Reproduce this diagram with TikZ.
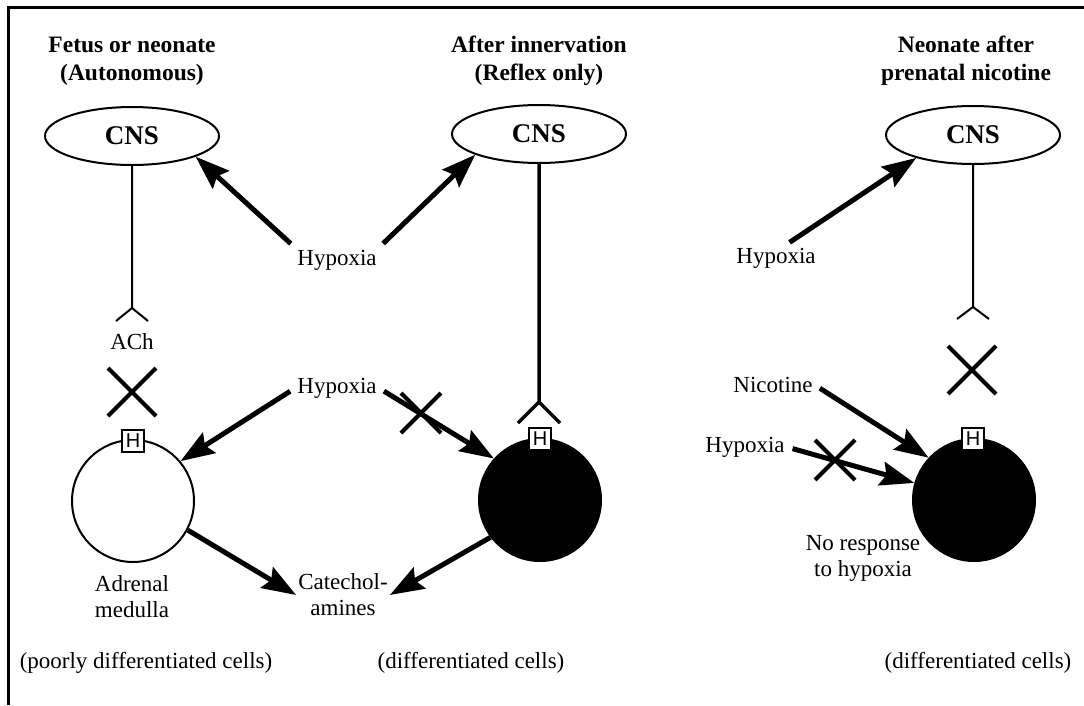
\documentclass[tikz,border=0pt]{standalone}
\usepackage{fontspec}
\setmainfont{Liberation Serif}
\newfontfamily\hfont{Liberation Sans}
\usetikzlibrary{arrows.meta, shapes.geometric}

\begin{document}
\begin{tikzpicture}[
  x=1pt, y=-1pt,
  txt/.style={align=center, inner sep=2pt, font=\fontsize{23}{26}\selectfont},
  heading/.style={align=center, inner sep=2pt, font=\fontsize{23.5}{28}\selectfont\bfseries},
  cns/.style={draw, ellipse, line width=2pt, minimum width=174pt, minimum height=58pt, inner sep=0pt, font=\fontsize{27}{30}\selectfont\bfseries},
  cell/.style={draw, circle, line width=2pt, minimum size=122pt, inner sep=0pt},
  hbox/.style={draw, fill=white, line width=1.5pt, minimum size=22pt, inner sep=0pt, font=\hfont\fontsize{20}{20}\selectfont},
  arrow/.style={-{Stealth[length=34pt, width=24pt, inset=5pt]}, line width=5pt, shorten <=6pt},
  nerve/.style={line width=2pt},
  block/.style={line width=4pt}
]
\useasboundingbox (0,0) rectangle (1084,705);
\draw[line width=3pt] (1084,7) -- (8,7) -- (8,705);

% column titles
\node[heading] (headA) at (132,61) {Fetus or neonate\\(Autonomous)};
\node[heading] (headB) at (539,61) {After innervation\\(Reflex only)};
\node[heading] (headC) at (966,61) {Neonate after\\prenatal nicotine};

\node[cns] (cnsA) at (132,136) {CNS};
\node[cns] (cnsB) at (539,134) {CNS};
\node[cns] (cnsC) at (973,135) {CNS};

\node[txt] (hypU) at (337,260) {Hypoxia};
\node[txt] (hypM) at (337,388) {Hypoxia};
\node[txt] (hypR) at (776,258) {Hypoxia};
\node[txt] (hypN) at (745,447) {Hypoxia};
\node[txt] (nico) at (773,385) {Nicotine};
\node[txt] (ach) at (132,342) {ACh};

% chromaffin cells
\node[cell] (cellA) at (133,501) {};
\node[cell, fill] (cellB) at (540,500) {};
\node[cell, fill] (cellC) at (974,500) {};
\node[hbox] (hA) at (133,441) {H};
\node[hbox] (hB) at (540,439) {H};
\node[hbox] (hC) at (973,439) {H};

\node[txt] (adrenal) at (132,597) {Adrenal\\medulla};
\node[txt] (catech) at (343,595) {Catechol-\\amines};
\node[txt] (noresp) at (863,558) {No response\\to hypoxia};

\node[txt] (diffA) at (146,663) {(poorly differentiated cells)};
\node[txt] (diffB) at (471,663) {(differentiated cells)};
\node[txt] (diffC) at (978,663) {(differentiated cells)};

% nerve endings
\coordinate (forkA) at (132,308);
\coordinate (forkB) at (539,402);
\coordinate (forkC) at (973,307);
\draw[nerve] (cnsA.south) -- (forkA) +(-16,13) -- (forkA) -- +(16,13);
\draw[nerve, line width=3.5pt] (cnsB.south) -- (forkB) +(-21,21) -- (forkB) -- +(21,21);
\draw[nerve] (cnsC.south) -- (forkC) +(-16,12) -- (forkC) -- +(16,12);

\draw[arrow] (hypU.north west) -- (cnsA.-18);
\draw[arrow] (hypU.north east) -- (cnsB.-162);
\draw[arrow] (hypM.west) -- (cellA.40);
\draw[arrow] (hypM.east) -- (cellB.138);
\draw[arrow, shorten <=0pt] (cellA.-28) -- (catech.west);
\draw[arrow, shorten <=0pt] (cellB.-143) -- (catech.east);
\draw[arrow] (hypR.55) -- (cnsC.-158);
\draw[arrow] (nico.east) -- (cellC.137);
\draw[arrow] (hypN.east) -- (cellC.164);

% blocked pathways
\draw[block] (132,392) +(-24,-24) -- +(24,24) +(-24,24) -- +(24,-24);
\draw[block] (972,370) +(-24,-24) -- +(24,24) +(-24,24) -- +(24,-24);
\draw[block] (421,413) +(-20,-20) -- +(20,20) +(-20,20) -- +(20,-20);
\draw[block] (835,460) +(-20,-20) -- +(20,20) +(-20,20) -- +(20,-20);
\end{tikzpicture}
\end{document}
